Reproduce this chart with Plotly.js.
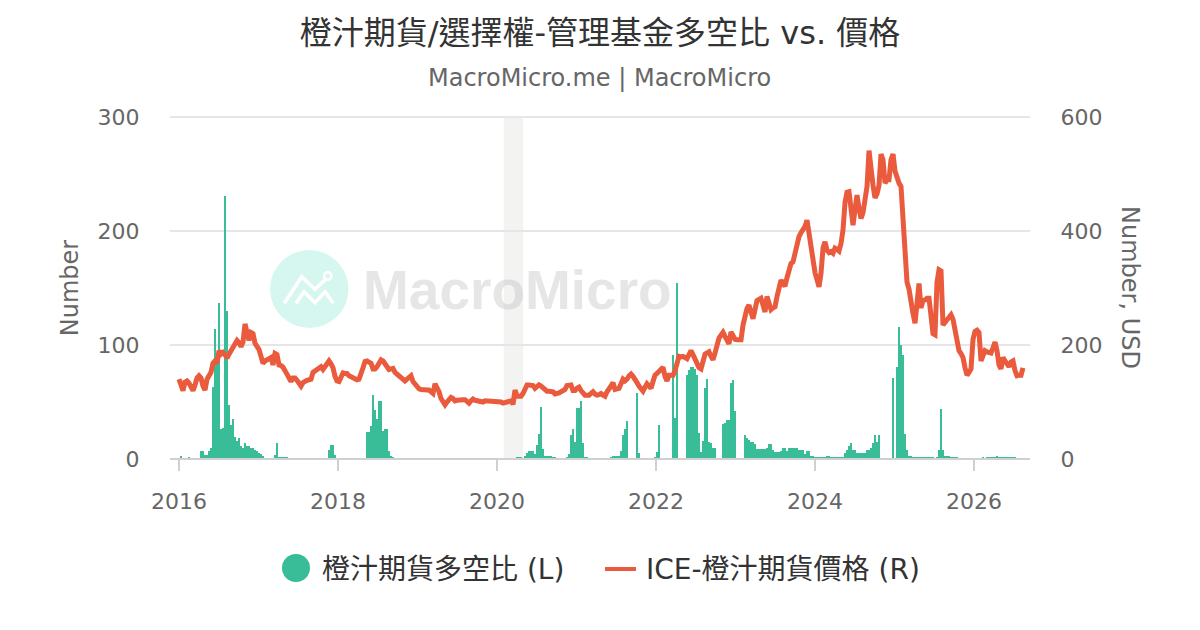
<!DOCTYPE html>
<html><head><meta charset="utf-8">
<script src="https://cdn.plot.ly/plotly-3.0.1.min.js"></script>
<style>html,body{margin:0;padding:0;background:#fff}#c{width:1200px;height:630px}</style>
</head><body><div id="c"></div>
<script>
const firstDate = '2015-11-25T06:00:00Z';
const stepDays = 9.19;
const xRange = ['2015-11-20T15:00:00Z','2026-09-15T07:00:00Z'];
const barName = '橙汁期貨多空比 (L)';
const lineName = 'ICE-橙汁期貨價格 (R)';
const xTicks = ['2016-01-01','2018-01-01','2020-01-01','2022-01-01','2024-01-01','2026-01-01'];
const xTickText = ['2016','2018','2020','2022','2024','2026'];
const leftTicks = [0,100,200,300];
const rightTicks = [0,200,400,600];
const shadeStart = '2020-02-01';
const shadeEnd = '2020-04-30';

const ratioValues = [
0,0,0,0,0,3,0,0,0,1.5,0,0,0,0,
1,7,7,3.5,3.5,7,10,63,114,85,137,26,27,231,130,47,30,35,19,16,18,11,10,14,11,11,10,10,8,7,5.5,4,2.6,
1,1,1,1,1,3.5,14,1.5,1.5,1.5,1.5,1.5,
0,0,0,0,0,0,0,0,0,0,0,0,0,
1,1,1,1,1,1,1,8,12,12,3.5,
0,0,0,0,0,0,0,0,0,0,0,0,0,0,
1,24,24,29,56,43,35,51,51,25,26,26,7,3,1.5,
0,0,0,0,0,0,0,0,0,0,0,0,0,0,0,0,0,0,0,0,0,0,0,0,0,0,0,0,0,0,0,0,0,0,0,0,0,0,0,0,0,0,0,0,0,0,0,0,0,0,0,0,0,0,0,0,0,0,0,0,0,
1.5,1.5,1.5,0,3,5,7,7,7,4,12,22,46,9,3,3,3,3,1.5,1.5,
0,0,0,0,0,
1.5,4,21,26,15,45,45,51,14,1.5,1.5,
0,0,0,0,0,0,0,0,0,0,0,
1.5,3,3,3,3,7,21,26,33,
0,0,0,0,
58,5,
0,0,0,0,0,0,0,
1.5,6,30,
0,0,0,0,0,0,
91,36,154,
0,0,0,0,
74,78,81,81,79,74,23,6,16,62,70,15,14,10,10,
0,0,0,
31,32,34,34,67,69,42,
0,0,0,0,
21,18,17,15,15,13,9,9,9,9,9,10,13,13,8,6,6,6,7,10,10,7,10,10,10,10,10,8,8,8,4,7,7,3,3,
1.5,1.5,1.5,1.5,1.5,1.5,3,3,1.5,1.5,1.5,1.5,1.5,1.5,1.5,
5,8,11,14,8,8,5,5,5,5,5,8,8,10,14,21,15,21,
0,0,0,0,0,0,
71,0,81,116,100,91,22,8,3,3,
1.5,1.5,1.5,1.5,1.5,1.5,1.5,1.5,1.5,1.5,1.5,
0,1.5,8,44,8,3,3,3,1.5,1.5,1.5,1.5,
0,0,0,0,0,0,0,0,0,0,0,0,
1.5,0,1.5,1.5,1.5,1.5,1.5,3,1.5,1.5,1.5,1.5,1.5,1.5,1.5,1.5,1.5
];

const priceValues = [
null,null,null,null,
140,128,120,135,137,133,127,120,130,142,146,142,128,121,140,148,152,168,172,168,190,184,187,183,177,184,190,195,200,208,204,197,205,237,222,208,222,220,203,198,192,180,168,172,174,176,178,165,185,183,165,164,161,155,148,140,136,142,142,138,133,128,134,137,138,139,140,152,155,156,160,162,157,162,168,172,167,160,145,137,136,142,151,150,150,146,144,
143,139,139,140,148,160,171,172,170,168,158,158,162,168,174,172,168,162,157,158,159,152,149,145,143,139,137,140,144,146,136,131,126,123,122,121,121,121,121,118,115,132,126,118,106,100,95,100,106,108,106,102,103,104,105,104,104,101,98,102,105,103,102,102,101,100,102,102,101,101,102,101,102,102,100,98,98,100,101,102,96,121,110,110,110,115,124,130,130,129,129,124,126,130,128,125,122,119,119,118,118,114,114,116,118,119,122,129,130,130,120,120,124,126,120,114,112,112,112,115,118,114,112,113,115,112,110,118,122,128,134,122,123,124,132,140,137,140,146,149,145,141,134,128,124,119,126,132,128,124,136,147,150,153,158,161,145,137,147,147,147,155,165,180,
179,180,178,176,183,190,183,176,170,160,158,175,184,186,188,180,174,186,200,212,217,222,215,206,202,223,215,210,209,209,209,235,256,264,270,258,246,262,278,280,282,270,258,285,275,262,265,267,285,300,314,308,303,318,329,
343,346,360,380,390,397,402,408,419,395,368,345,327,315,302,326,370,381,366,362,364,361,370,368,365,378,402,450,468,469,430,410,438,463,440,422,432,460,478,541,505,480,458,465,480,535,525,484,490,490,525,535,505,490,484,478,430,360,310,298,270,255,238,270,308,265,278,279,282,282,250,220,218,310,332,330,235,240,243,250,253,245,225,200,190,185,178,160,147,152,158,210,224,226,222,172,185,190,188,186,186,195,205,190,165,158,178,172,165,162,170,172,155,146,147,147,160
];

const t0 = Date.parse(firstDate), stepMs = stepDays * 86400000;
const barDates = ratioValues.map((_, i) => new Date(t0 + i * stepMs).toISOString());
const priceDates = priceValues.map((_, i) => new Date(t0 + i * stepMs).toISOString());

const GREEN = '#38bd98', RED = '#ea5a3d', GRID = '#e6e6e6', AXIS = '#d0d0d0', MUTED = '#666666', DARK = '#333333';
const FONT = '"DejaVu Sans","Noto Sans CJK TC",sans-serif';
const W = 1200, H = 630;
const px = x => (x - 170) / 860, py = y => (459 - y) / 342;
const poly = pts => 'M' + pts.map(p => px(p[0]) + ' ' + py(p[1])).join('L');
const deco = {xref:'paper', yref:'paper'};

const shapes = [
  {type:'rect', xref:'x', yref:'paper', x0:shadeStart, x1:shadeEnd, y0:0, y1:1, fillcolor:'#f3f3f2', line:{width:0}, layer:'below'},
  {...deco, type:'line', x0:0, x1:1, y0:1, y1:1, line:{color:GRID, width:2}, layer:'below'},
  {...deco, type:'circle', x0:px(270), x1:px(348.5), y0:py(328), y1:py(250), fillcolor:'#d6f7ef', line:{width:0}, layer:'below'},
  {...deco, type:'path', path:poly([[284.3,303.3],[301.7,276.7],[315,289.3],[326.7,278.3]]), line:{color:'#fff', width:3.5}, layer:'below'},
  {...deco, type:'path', path:poly([[296,303.3],[304,291.7],[315,302.7],[325,291.7],[333.3,303.3]]), line:{color:'#fff', width:3.5}, layer:'below'},
  {...deco, type:'circle', x0:px(324), x1:px(331.5), y0:py(279.7), y1:py(272.3), fillcolor:'rgba(0,0,0,0)', line:{color:'#fff', width:2.5}, layer:'below'},
  {...deco, type:'line', x0:0, x1:1, y0:0, y1:0, line:{color:AXIS, width:2}},
  {...deco, type:'circle', x0:px(282), x1:px(310), y0:py(582), y1:py(554), fillcolor:GREEN, line:{width:0}},
  {...deco, type:'line', x0:px(605), x1:px(636), y0:py(569), y1:py(569), line:{color:RED, width:4}},
];

const annotations = [
  {xref:'paper', yref:'paper', x:px(517.5), y:py(290), text:'<b>MacroMicro</b>', showarrow:false, xanchor:'center', yanchor:'middle',
   font:{family:'"Liberation Sans",sans-serif', size:55, color:'rgba(190,190,190,0.38)'}},
  {xref:'paper', yref:'paper', x:px(599), y:py(78), text:'MacroMicro.me | MacroMicro', showarrow:false, xanchor:'center', yanchor:'middle',
   font:{family:FONT, size:24, color:MUTED}},
  {xref:'paper', yref:'paper', x:px(320), y:py(569), text:barName, showarrow:false, xanchor:'left', yanchor:'middle',
   font:{family:FONT, size:28, color:DARK}},
  {xref:'paper', yref:'paper', x:px(644), y:py(569), text:lineName, showarrow:false, xanchor:'left', yanchor:'middle',
   font:{family:FONT, size:28, color:DARK}},
  {xref:'paper', yref:'paper', x:px(1130), y:py(287), text:'Number, USD', textangle:90, showarrow:false, xanchor:'center', yanchor:'middle',
   font:{family:FONT, size:24, color:MUTED}},
];

const traces = [
  {type:'bar', name:barName, x:barDates, y:ratioValues, yaxis:'y', width:stepMs, marker:{color:GREEN, line:{width:0}}, hoverinfo:'x+y'},
  {type:'scatter', mode:'lines', name:lineName, x:priceDates, y:priceValues, yaxis:'y2', line:{color:RED, width:5, shape:'linear'}, connectgaps:false, hoverinfo:'x+y'},
];

const layout = {
  width:W, height:H, margin:{l:170, r:170, t:117, b:171, pad:0}, autosize:false,
  paper_bgcolor:'#fff', plot_bgcolor:'#fff', showlegend:false, bargap:0,
  font:{family:FONT, color:MUTED, size:22},
  title:{text:'橙汁期貨/選擇權-管理基金多空比 vs. 價格', x:0.5, xanchor:'center', xref:'paper', y:1-33/H, yanchor:'middle', yref:'container',
         font:{family:FONT, size:32, color:DARK}},
  xaxis:{type:'date', range:xRange, tickmode:'array', tickvals:xTicks, ticktext:xTickText, ticks:'outside', ticklen:11, tickwidth:2, tickcolor:AXIS,
         showline:false, showgrid:false, zeroline:false, ticklabelstandoff:12, tickfont:{family:FONT, size:22, color:MUTED}},
  yaxis:{range:[0,300], tickmode:'array', tickvals:leftTicks, ticks:'outside', ticklen:25, tickcolor:'rgba(0,0,0,0)', tickwidth:1,
         showgrid:true, gridcolor:GRID, gridwidth:2, zeroline:false, showline:false, tickfont:{family:FONT, size:22, color:MUTED},
         title:{text:'Number', font:{family:FONT, size:24, color:MUTED}, standoff:12}},
  yaxis2:{range:[0,600], overlaying:'y', side:'right', tickmode:'array', tickvals:rightTicks, ticks:'outside', ticklen:25, tickcolor:'rgba(0,0,0,0)', tickwidth:1,
         showgrid:false, zeroline:false, showline:false, tickfont:{family:FONT, size:22, color:MUTED}},
  shapes, annotations,
};
Plotly.newPlot('c', traces, layout, {displayModeBar:false, staticPlot:true});
</script></body></html>
